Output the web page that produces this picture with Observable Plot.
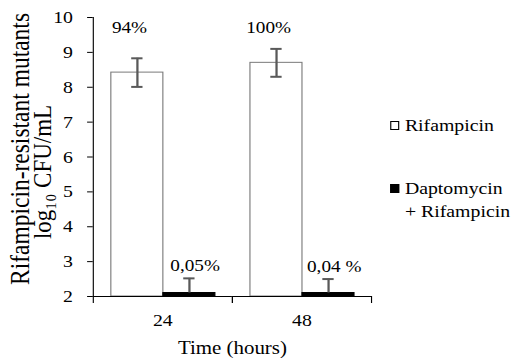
<!DOCTYPE html>
<html><head><meta charset="utf-8">
<script src="https://cdn.jsdelivr.net/npm/d3@7"></script>
<script src="https://cdn.jsdelivr.net/npm/@observablehq/plot@0.6"></script>
<style>
body{margin:0;background:#fff;overflow:hidden;}
#wrap{position:relative;width:458px;height:358px;transform:scaleX(1.131);transform-origin:0 0;font-family:"Liberation Serif","DejaVu Serif",serif;}
#wrap svg{display:block;}
#legend{position:absolute;left:345px;top:114px;font-size:17.5px;color:#000;line-height:23px;font-family:"Liberation Serif","DejaVu Serif",serif;}
.row{display:flex;align-items:center;}
.sw{width:8px;height:9px;border:1px solid #000;margin-right:5px;box-sizing:border-box;flex:none;}
</style></head><body>
<div id="wrap"><div id="legend"></div></div>
<script>
const times = ["24", "48"];
const series = ["Rifampicin", "Daptomycin + Rifampicin"];
const rifValues = [8.42, 8.70];
const rifErrors = [0.41, 0.40];
const dapValues = [2.1, 2.1];
const dapErrors = [0.42, 0.40];
const rifLabels = ["94%", "100%"];
const dapLabels = ["0,05%", "0,04 %"];
const yTicks = [2, 3, 4, 5, 6, 7, 8, 9, 10];
const yTitle = ["Rifampicin-resistant mutants", "log\u2081\u2080 CFU/mL"];
const xTitle = "Time (hours)";
const fills = ["#ffffff", "#000000"];

const data = [];
times.forEach((t, i) => {
  data.push({time: t, series: series[0], value: rifValues[i], err: rifErrors[i], label: rifLabels[i]});
  data.push({time: t, series: series[1], value: dapValues[i], err: dapErrors[i], label: dapLabels[i]});
});

const W = 458, H = 358, mL = 81, mR = 130, mT = 17, mB = 62;
const frameH = H - mT - mB;
const font = "'Liberation Serif', 'DejaVu Serif', serif";

const chart = Plot.plot({
  width: W, height: H,
  marginLeft: mL, marginRight: mR, marginTop: mT, marginBottom: mB,
  style: {fontFamily: font, fontSize: "17.5px", color: "#000", background: "transparent", overflow: "visible"},
  fx: {domain: times, padding: 0, tickSize: 0, tickPadding: 17, label: null},
  x: {domain: series, paddingInner: 0, paddingOuter: 0.32, axis: null},
  y: {domain: [2, 10], ticks: yTicks, tickSize: 5, tickPadding: 13, line: true, label: null},
  color: {domain: series, range: fills},
  marks: [
    Plot.barY(data, {fx: "time", x: "series", y1: 2, y2: "value", fill: "series", stroke: d => d.series === series[0] ? "#7a7a7a" : "#000", strokeWidth: 1}),
    Plot.ruleX(data, {fx: "time", x: "series", y1: d => d.value - (d.series === series[0] ? d.err : 0), y2: d => d.value + d.err, stroke: "#595959", strokeWidth: 2}),
    Plot.tickY(data, {fx: "time", x: "series", y: d => d.value + d.err, stroke: "#595959", strokeWidth: 2, insetLeft: 18, insetRight: 18}),
    Plot.tickY(data.filter(d => d.series === series[0]), {fx: "time", x: "series", y: d => d.value - d.err, stroke: "#595959", strokeWidth: 2, insetLeft: 18, insetRight: 18}),
    Plot.ruleY([2], {stroke: "#000", strokeWidth: 1}),
    Plot.frame({anchor: "left", insetTop: frameH, insetBottom: -6, stroke: "#000"}),
    Plot.frame({anchor: "right", insetTop: frameH, insetBottom: -6, stroke: "#000"}),
    Plot.text(data.filter(d => d.series === series[0]), {fx: "time", x: "series", frameAnchor: "top", dy: 3, dx: -7, text: "label", fontSize: 17}),
    Plot.text(data.filter(d => d.series === series[1]), {fx: "time", x: "series", y: d => d.value + d.err, dy: -13, dx: 5, text: "label", fontSize: 17}),
    Plot.text([{time: times[0]}], {fx: "time", frameAnchor: "left", rotate: -90, textAnchor: "middle", dx: -64, dy: -8,
      text: () => yTitle[0], fontSize: 23.5}),
    Plot.text([{time: times[0]}], {fx: "time", frameAnchor: "left", rotate: -90, textAnchor: "middle", dx: -45, dy: 15,
      text: () => yTitle[1], fontSize: 23}),
    Plot.text([{time: times[1]}], {fx: "time", frameAnchor: "bottom-left", textAnchor: "middle", lineAnchor: "bottom", dy: 57,
      text: () => xTitle, fontSize: 18.5})
  ]
});
document.getElementById("wrap").prepend(chart);

const leg = document.getElementById("legend");
leg.innerHTML =
  `<div class="row"><div class="sw" style="background:${fills[0]}"></div>${series[0]}</div>` +
  `<div style="height:40px"></div>` +
  `<div class="row"><div class="sw" style="background:${fills[1]}"></div>Daptomycin</div>` +
  `<div style="padding-left:13px">+ Rifampicin</div>`;
</script>
</body></html>
